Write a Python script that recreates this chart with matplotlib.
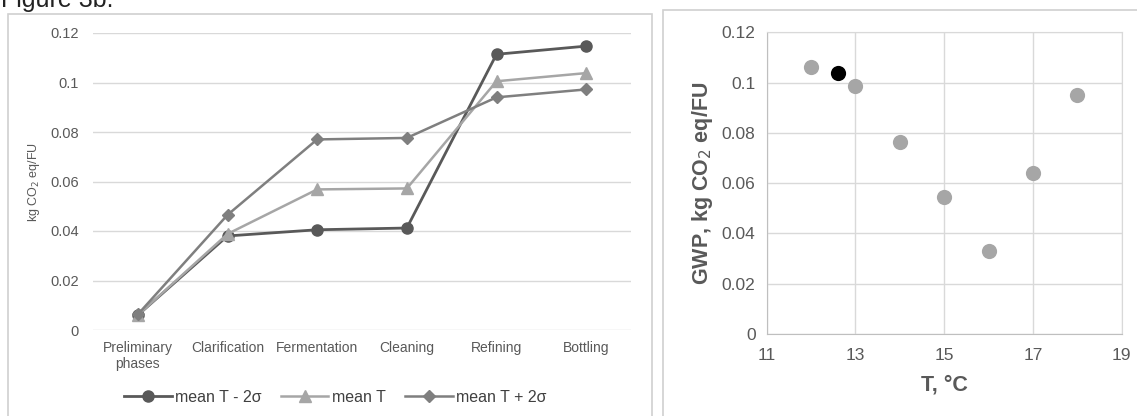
import matplotlib
matplotlib.use("Agg")
import matplotlib.pyplot as plt
from matplotlib.patches import Rectangle

plt.rcParams['font.family'] = ['Liberation Sans', 'DejaVu Sans']

# ---- data ----
phases = ["Preliminary\nphases", "Clarification", "Fermentation", "Cleaning", "Refining", "Bottling"]
low = [0.0060, 0.0380, 0.0405, 0.0412, 0.1114, 0.1147]
mean = [0.0060, 0.0388, 0.0568, 0.0572, 0.1005, 0.1038]
high = [0.0063, 0.0465, 0.0770, 0.0776, 0.0940, 0.0972]
series_labels = ["mean T - 2σ", "mean T", "mean T + 2σ"]

temps = [12, 13, 14, 15, 16, 17, 18]
gwp = [0.106, 0.0985, 0.0765, 0.0545, 0.033, 0.064, 0.095]
mean_temp = [12.6]
mean_gwp = [0.104]

W, H = 1137, 416
fig = plt.figure(figsize=(W/100, H/100), dpi=100)

def fx(px):
    return px / W
def fy(py):
    return 1 - py / H

# panel borders
fig.patches.append(Rectangle((fx(8), fy(420)), fx(652-8), (420-14)/H, transform=fig.transFigure,
                             fill=False, edgecolor='#d0d0d0', linewidth=1.2))
fig.patches.append(Rectangle((fx(663), fy(420)), fx(1145-663), (420-10)/H, transform=fig.transFigure,
                             fill=False, edgecolor='#d0d0d0', linewidth=1.2))

fig.text(fx(1), fy(7), "Figure 3b.", fontsize=18, color='#222222', va='baseline', ha='left')

tick_color = '#595959'
grid_color = '#d9d9d9'

# ---- left chart ----
ax = fig.add_axes([fx(93), fy(330), fx(631-93), (330-33)/H])
x = list(range(len(phases)))
ax.plot(x, low, color='#595959', marker='o', markersize=8, linewidth=2, label=series_labels[0], zorder=3)
ax.plot(x, mean, color='#a6a6a6', marker='^', markersize=8, linewidth=1.8, label=series_labels[1], zorder=3)
ax.plot(x, high, color='#7f7f7f', marker='D', markersize=6, linewidth=1.8, label=series_labels[2], zorder=3)
ax.set_xlim(-0.5, len(phases) - 0.5)
ax.set_ylim(0, 0.12)
ax.set_yticks([0, 0.02, 0.04, 0.06, 0.08, 0.1, 0.12])
ax.set_yticklabels(["0", "0.02", "0.04", "0.06", "0.08", "0.1", "0.12"])
ax.set_xticks(x)
ax.set_xticklabels(phases)
ax.grid(axis='y', color=grid_color, linewidth=1)
ax.set_axisbelow(True)
for s in ax.spines.values():
    s.set_visible(False)
ax.tick_params(axis='both', length=0, colors=tick_color, labelsize=10.5)
ax.tick_params(axis='x', labelsize=10)
ax.tick_params(axis='y', pad=10)
ax.tick_params(axis='x', pad=8)
ax.set_ylabel("kg CO$_2$ eq/FU", fontsize=9, color=tick_color, labelpad=6)
ax.legend(loc='center', bbox_to_anchor=(fx(335), fy(397)), bbox_transform=fig.transFigure,
          ncol=3, frameon=False, fontsize=11.5, labelcolor='#404040', handlelength=3,
          columnspacing=1.2, handletextpad=0.2)

# ---- right chart ----
ax2 = fig.add_axes([fx(766.7), fy(334), fx(1121.7-766.7), (334-32.3)/H])
ax2.scatter(temps, gwp, s=120, color='#a6a6a6', zorder=3, linewidths=0)
ax2.scatter(mean_temp, mean_gwp, s=120, color='#000000', zorder=4, linewidths=0)
ax2.set_xlim(11, 19)
ax2.set_ylim(0, 0.12)
ax2.set_xticks([11, 13, 15, 17, 19])
ax2.set_yticks([0, 0.02, 0.04, 0.06, 0.08, 0.1, 0.12])
ax2.set_yticklabels(["0", "0.02", "0.04", "0.06", "0.08", "0.1", "0.12"])
ax2.grid(True, color=grid_color, linewidth=1)
ax2.set_axisbelow(True)
for name, s in ax2.spines.items():
    if name in ('left', 'bottom'):
        s.set_color('#bfbfbf')
    else:
        s.set_color(grid_color)
ax2.tick_params(axis='both', length=0, colors=tick_color, labelsize=12.5)
ax2.tick_params(axis='y', pad=8)
ax2.tick_params(axis='x', pad=10)
ax2.set_xlabel("T, °C", fontsize=15.5, fontweight='bold', color=tick_color, labelpad=8)
ax2.set_ylabel("GWP, kg CO$_2$ eq/FU", fontsize=15.5, fontweight='bold', color=tick_color, labelpad=5)

fig.savefig("out.png", dpi=100)
